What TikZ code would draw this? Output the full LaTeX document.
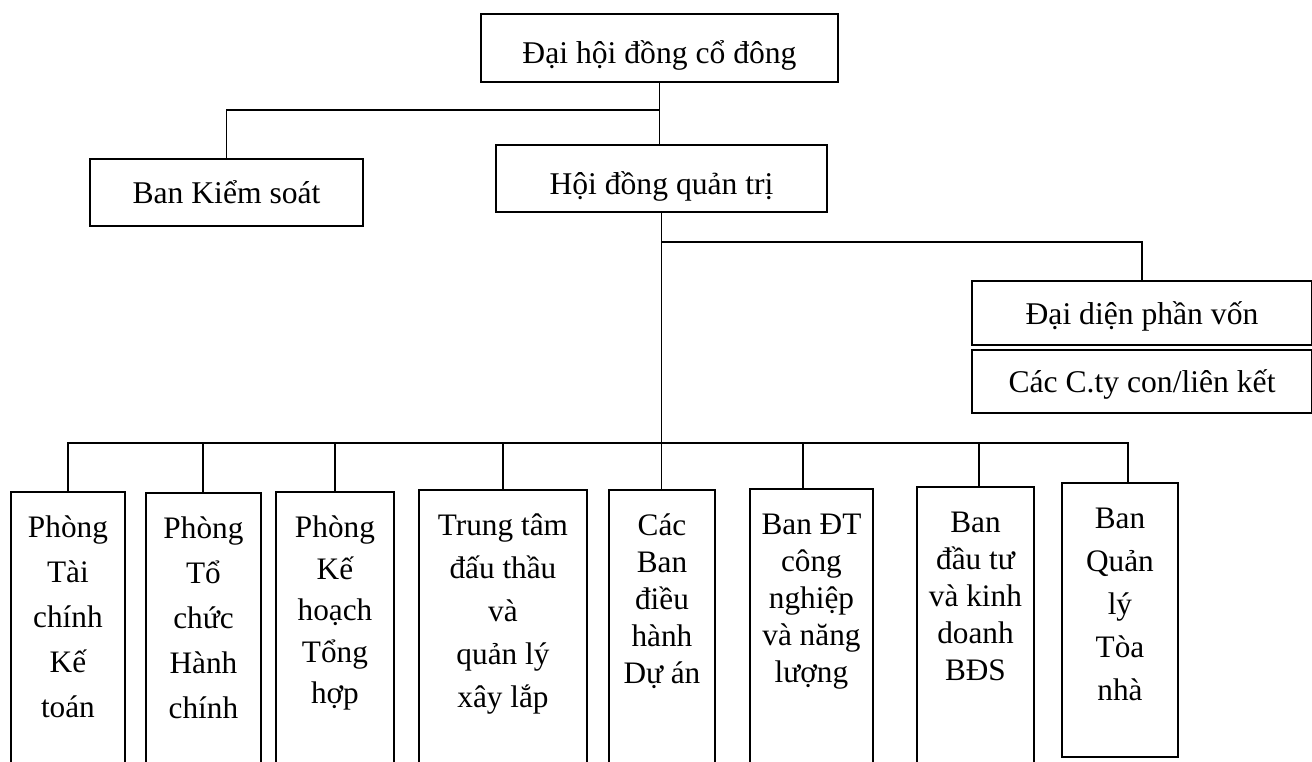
\documentclass[tikz,border=0pt]{standalone}
\usepackage{fontspec}
\setmainfont{Liberation Serif}
\usepackage{tikz}
\usetikzlibrary{positioning}

% tall department box: width, height, line skip, text
\newcommand{\deptbox}[4]{\parbox[t][#2][t]{#1}{\centering\fontsize{17.8}{#3}\selectfont\rule{0pt}{26pt}#4}}

\begin{document}
\begin{tikzpicture}[x=0.02cm, y=-0.02cm, line width=1.1pt,
    box/.style={draw, inner sep=0pt, text height=13pt, text depth=0pt, font=\fontsize{18}{21}\selectfont},
    dept/.style={draw, inner sep=0pt, anchor=north west}]
    \useasboundingbox (0,0) rectangle (1312,761);
    \clip (0,0) rectangle (1312,761);

    \node [box, minimum width=7.14cm, minimum height=1.36cm, text height=18pt] (dhcd) at (659.5,48) {Đại hội đồng cổ đông};
    \node [box, minimum width=5.46cm, minimum height=1.34cm] (bks) at (226.5,192.5) {Ban Kiểm soát};
    \node [box, minimum width=6.62cm, minimum height=1.34cm, text height=18pt] (hdqt) at (661.5,178.5) {Hội đồng quản trị};
    \node [box, minimum width=6.8cm, minimum height=1.28cm] (ddpv) at (1142,313) {Đại diện phần vốn};
    \node [box, minimum width=6.8cm, minimum height=1.26cm, below=0.06cm of ddpv] (cty) {Các C.ty con/liên kết};

    \node [dept] (tckt) at (10,491) {\deptbox{2.28cm}{6cm}{25.6pt}{Phòng\\Tài\\chính\\Kế\\toán}};
    \node [dept] (tchc) at (145,492) {\deptbox{2.3cm}{6cm}{25.6pt}{Phòng\\Tổ\\chức\\Hành\\chính}};
    \node [dept] (khth) at (275,491) {\deptbox{2.36cm}{6cm}{23.6pt}{Phòng\\Kế\\hoạch\\Tổng\\hợp}};
    \node [dept] (ttdt) at (418,489) {\deptbox{3.36cm}{6cm}{24.5pt}{Trung tâm\\đấu thầu\\và\\quản lý\\xây lắp}};
    \node [dept] (cbdh) at (608,489) {\deptbox{2.12cm}{6cm}{21pt}{Các\\Ban\\điều\\hành\\Dự án}};
    \node [dept] (bdtcn) at (749,488) {\deptbox{2.46cm}{6cm}{21pt}{Ban ĐT\\công\\nghiệp\\và năng\\lượng}};
    \node [dept] (bdtkd) at (916,486) {\deptbox{2.34cm}{6cm}{21pt}{Ban\\đầu tư\\và kinh\\doanh\\BĐS}};
    \node [dept] (bqltn) at (1061,482) {\deptbox{2.32cm}{5.48cm}{24.5pt}{Ban\\Quản\\lý\\Tòa\\nhà}};

    \coordinate (j1) at (659.5,110);
    \coordinate (j2) at (661.5,242);
    \coordinate (bus) at (661.5,443);

    \draw (dhcd.south) -- (dhcd.south |- hdqt.north);
    \draw (j1) -| (bks.north);
    \draw (hdqt.south) -- (hdqt.south |- cbdh.north);
    \draw (j2) -| (ddpv.north);

    \draw (bus) -| (tckt.north);
    \draw (bus) -| (tchc.north);
    \draw (bus) -| (khth.north);
    \draw (bus) -| (ttdt.north);
    \draw (bus) -| ([xshift=-0.16cm]bdtcn.north);
    \draw (bus) -| ([xshift=0.08cm]bdtkd.north);
    \draw (bus) -| ([xshift=0.16cm]bqltn.north);
\end{tikzpicture}
\end{document}
